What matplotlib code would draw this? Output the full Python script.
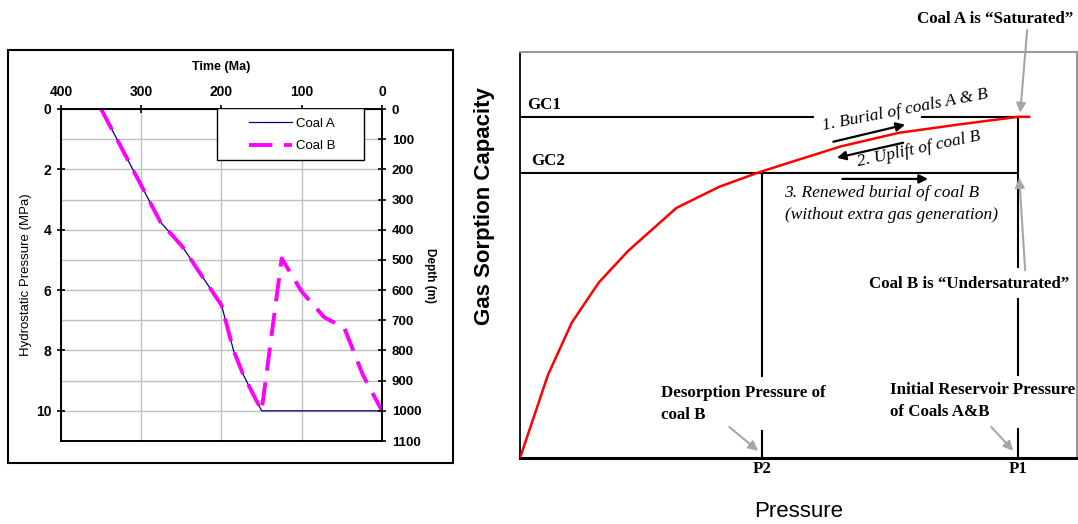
import numpy as np
import matplotlib.pyplot as plt
from matplotlib.patches import Rectangle

# ---- left chart: burial history (time in Ma, hydrostatic pressure in MPa)
coal_a_time = [350, 276, 249, 224, 200, 185, 173, 150, 100, 50, 0]
coal_a_press = [0.0, 3.75, 4.55, 5.55, 6.5, 8.0, 8.8, 10.0, 10.0, 10.0, 10.0]
coal_b_time = [350, 276, 249, 224, 200, 185, 173, 150, 125, 100, 72, 47, 24, 0]
coal_b_press = [0.0, 3.75, 4.55, 5.55, 6.5, 8.0, 8.8, 10.0, 4.95, 6.05, 6.9, 7.25, 8.8, 10.0]
time_ticks = [400, 300, 200, 100, 0]
press_ticks = [0, 2, 4, 6, 8, 10]
depth_ticks = list(range(0, 1200, 100))

# ---- right chart: sorption isotherm (pressure normalised to P1, capacity to GC1)
iso_p = [0.0, 0.056, 0.104, 0.158, 0.217, 0.314, 0.400, 0.479, 0.526, 0.643, 0.760, 0.878, 1.0, 1.022]
iso_gc = [0.0, 0.243, 0.397, 0.514, 0.607, 0.733, 0.795, 0.837, 0.859, 0.913, 0.953, 0.977, 1.0, 1.0]
P1, P2 = 1.0, 0.486
GC1, GC2 = 1.0, 0.836

SANS = 'Liberation Sans'
SERIF = 'Liberation Serif'
GREY = '#a6a6a6'

fig = plt.figure(figsize=(10.78, 5.24), dpi=100)

# outer frame of the left chart
fig.patches.append(Rectangle((8 / 1078, 1 - 463 / 524), 445 / 1078, 413 / 524,
                             transform=fig.transFigure, fill=False, ec='black', lw=1.5))

ax = fig.add_axes([61 / 1078, 1 - 441 / 524, 321 / 1078, 332 / 524])
ax.plot(coal_a_time, coal_a_press, color='#000080', lw=0.9, label='Coal A')
ax.plot(coal_b_time, coal_b_press, color='#ff00ff', lw=2.8, dashes=(6, 3), label='Coal B')
ax.set_xlim(400, 0)
ax.set_ylim(11, 0)
ax.xaxis.tick_top()
ax.xaxis.set_label_position('top')
ax.set_xticks(time_ticks)
ax.set_yticks(press_ticks)
ax.set_yticks(np.arange(0, 11, 1), minor=True)
ax.tick_params(axis='y', which='minor', length=0)
ax.tick_params(which='major', direction='inout', length=6, width=1.2, pad=4)
ax.grid(True, which='both', color='#c0c0c0', lw=1.0)
ax.set_axisbelow(True)
for lbl in ax.get_xticklabels() + ax.get_yticklabels():
    lbl.set_fontfamily(SANS)
    lbl.set_fontweight('bold')
    lbl.set_fontsize(10)
ax.set_xlabel('Time (Ma)', fontfamily=SANS, fontweight='bold', fontsize=9, labelpad=11)
ax.set_ylabel('Hydrostatic Pressure (MPa)', fontfamily=SANS, fontsize=9.5, labelpad=3)
for s in ax.spines.values():
    s.set_linewidth(1.2)

ax2 = ax.twinx()
ax2.set_ylim(1100, 0)
ax2.set_yticks(depth_ticks)
ax2.tick_params(direction='inout', length=6, width=1.2, pad=4)
for lbl in ax2.get_yticklabels():
    lbl.set_fontfamily(SANS)
    lbl.set_fontweight('bold')
    lbl.set_fontsize(9.5)
ax2.set_ylabel('Depth (m)', fontfamily=SANS, fontweight='bold', fontsize=8.5,
               rotation=270, labelpad=11)
for s in ax2.spines.values():
    s.set_linewidth(1.2)

# legend box drawn separately so it can be wider than its content
legend_box = Rectangle((0.486, 0.846), 0.458, 0.157, transform=ax2.transAxes,
                       facecolor='white', edgecolor='black', lw=1.0, zorder=4)
ax2.add_patch(legend_box)
handles, labels = ax.get_legend_handles_labels()
leg = ax2.legend(handles, labels, loc='upper left', bbox_to_anchor=(0.585, 0.975),
                 frameon=False, handlelength=3.3, handletextpad=0.25, borderpad=0,
                 borderaxespad=0, labelspacing=0.8, prop={'family': SANS, 'size': 9.5})
leg.set_zorder(5)

# ---- right chart
bx = fig.add_axes([520 / 1078, 1 - 458 / 524, 557 / 1078, 406 / 524])
bx.set_xlim(0, 1.118)
bx.set_ylim(0, 1.19)
bx.set_xticks([])
bx.set_yticks([])
bx.spines['left'].set_linewidth(1.3)
bx.spines['bottom'].set_linewidth(2.2)
for side in ('top', 'right'):
    bx.spines[side].set_color('#999999')
    bx.spines[side].set_linewidth(1.5)

kw = dict(color='black', lw=1.5)
# GC1 with a gap for the burial label
bx.plot([0, 0.588], [GC1, GC1], **kw)
bx.plot([0.807, P1], [GC1, GC1], **kw)
bx.plot([0, P1], [GC2, GC2], **kw)
# P2 vertical with a gap for its label
bx.plot([P2, P2], [0, 0.080], **kw)
bx.plot([P2, P2], [0.240, GC2], **kw)
# P1 vertical with gaps for the two labels
bx.plot([P1, P1], [0, 0.085], **kw)
bx.plot([P1, P1], [0.243, 0.466], **kw)
bx.plot([P1, P1], [0.561, GC1], **kw)

bx.plot(iso_p, iso_gc, color='red', lw=1.8, zorder=4)

serif_b = dict(fontfamily=SERIF, fontweight='bold', fontsize=12.2)
serif_i = dict(fontfamily=SERIF, fontstyle='italic', fontsize=12.5)

bx.text(0.014, GC1 + 0.012, 'GC1', ha='left', va='bottom', **serif_b)
bx.text(0.022, GC2 + 0.012, 'GC2', ha='left', va='bottom', **serif_b)

bx.text(0.773, 1.02, '1. Burial of coals A & B', ha='center', va='center',
        rotation=11, rotation_mode='anchor', **serif_i)
bx.text(0.80, 0.905, '2. Uplift of coal B', ha='center', va='center',
        rotation=12, rotation_mode='anchor', **serif_i)
bx.text(0.725, 0.776, '3. Renewed burial of coal B', ha='center', va='center', **serif_i)
bx.text(0.745, 0.712, '(without extra gas generation)', ha='center', va='center', **serif_i)

black_arrow = dict(arrowstyle='-|>', color='black', lw=1.6, mutation_scale=13,
                   shrinkA=0, shrinkB=0)
bx.annotate('', xy=(0.773, 0.977), xytext=(0.629, 0.927), arrowprops=black_arrow)
bx.annotate('', xy=(0.636, 0.880), xytext=(0.769, 0.924), arrowprops=black_arrow)
bx.annotate('', xy=(0.819, 0.818), xytext=(0.647, 0.818), arrowprops=black_arrow)

grey_arrow = dict(arrowstyle='-|>', color=GREY, lw=1.5, mutation_scale=14,
                  shrinkA=0, shrinkB=0)
bx.text(0.954, 1.287, 'Coal A is \u201cSaturated\u201d', ha='center', va='center',
        clip_on=False, **serif_b)
bx.annotate('', xy=(1.004, 1.012), xytext=(1.018, 1.255), arrowprops=grey_arrow,
            annotation_clip=False)
bx.text(0.902, 0.510, 'Coal B is \u201cUndersaturated\u201d', ha='center', va='center', **serif_b)
bx.annotate('', xy=(1.002, 0.821), xytext=(1.014, 0.55), arrowprops=grey_arrow)
bx.text(0.283, 0.213, 'Desorption Pressure of\ncoal B', ha='left', va='top',
        linespacing=1.5, **serif_b)
bx.annotate('', xy=(0.478, 0.021), xytext=(0.42, 0.091), arrowprops=grey_arrow)
bx.text(0.743, 0.222, 'Initial Reservoir Pressure\nof Coals A&B', ha='left', va='top',
        linespacing=1.5, **serif_b)
bx.annotate('', xy=(0.99, 0.021), xytext=(0.946, 0.091), arrowprops=grey_arrow)

bx.text(P2, -0.01, 'P2', ha='center', va='top', **serif_b)
bx.text(P1, -0.01, 'P1', ha='center', va='top', **serif_b)
bx.set_xlabel('Pressure', fontfamily=SANS, fontsize=16, labelpad=31)
bx.set_ylabel('Gas Sorption Capacity', fontfamily=SANS, fontweight='bold', fontsize=16)
bx.yaxis.set_label_coords(-0.045, 0.62)

fig.savefig('out.png', dpi=100)
